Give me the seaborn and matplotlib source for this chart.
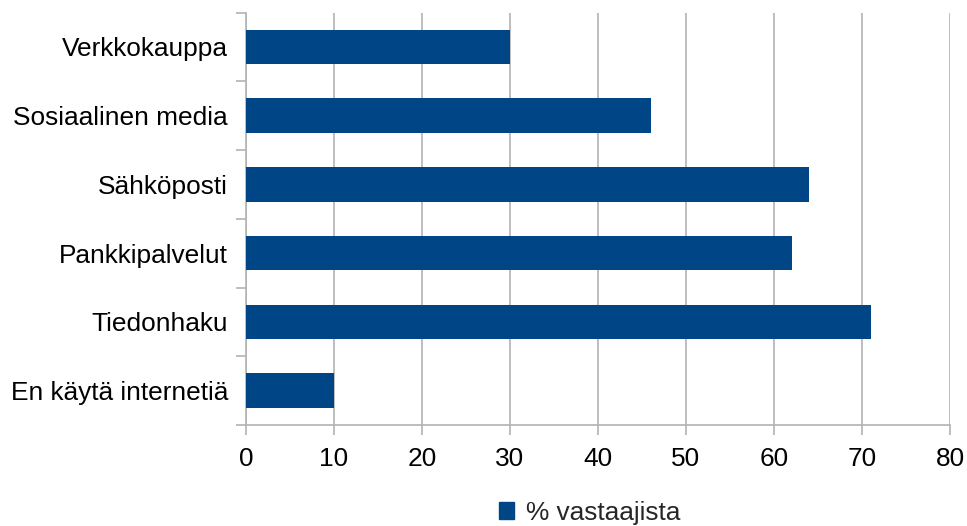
import matplotlib
matplotlib.use("Agg")
import matplotlib.pyplot as plt
import seaborn as sns
import pandas as pd
from matplotlib.patches import Patch
from matplotlib.ticker import FixedLocator

categories = ["Verkkokauppa", "Sosiaalinen media", "Sähköposti",
              "Pankkipalvelut", "Tiedonhaku", "En käytä internetiä"]
values = [30, 46, 64, 62, 71, 10]
series_name = "% vastaajista"
x_ticks = [0, 10, 20, 30, 40, 50, 60, 70, 80]

sns.set_theme(style="white")
plt.rcParams['font.family'] = ['Liberation Sans', 'DejaVu Sans']

df = pd.DataFrame({"cat": categories, "val": values})
color = "#004586"
grid_c = "#b3b3b3"
fs = 18.9

fig = plt.figure(figsize=(9.67, 5.26), dpi=100)
ax = fig.add_axes([246/967, 1-425/526, (950-246)/967, (425-12.5)/526])

sns.barplot(data=df, x="val", y="cat", orient="h", color=color,
            saturation=1, width=0.5, ax=ax, zorder=3, linewidth=0,
            edgecolor=color)

ax.set_xlim(0, 80)
ax.set_ylim(len(categories)-0.5, -0.5)
ax.set_xticks(x_ticks)
ax.set_xticklabels([str(t) for t in x_ticks])
ax.set_xlabel("")
ax.set_ylabel("")

ax.grid(axis="x", color=grid_c, linewidth=1.2, zorder=0)
ax.set_axisbelow(True)
for s in ["top", "right"]:
    ax.spines[s].set_visible(False)
for s in ["left", "bottom"]:
    ax.spines[s].set_color(grid_c)
    ax.spines[s].set_linewidth(1.2)

ax.yaxis.set_minor_locator(FixedLocator([i - 0.5 for i in range(len(categories)+1)]))
ax.tick_params(axis="y", which="major", length=0, pad=13, labelsize=fs, colors="black")
ax.tick_params(axis="y", which="minor", length=7, width=1.2, color=grid_c, left=True)
ax.tick_params(axis="x", which="major", length=7, width=1.2, color=grid_c,
               bottom=True, pad=9, labelsize=fs, labelcolor="black")

handle = Patch(facecolor=color, edgecolor=color)
ax.legend([handle], [series_name], loc="center", bbox_to_anchor=(0.488, -0.213),
          frameon=False, fontsize=fs, handlelength=0.6, handleheight=0.6,
          handletextpad=0.45)

fig.savefig("out.png", dpi=100)
